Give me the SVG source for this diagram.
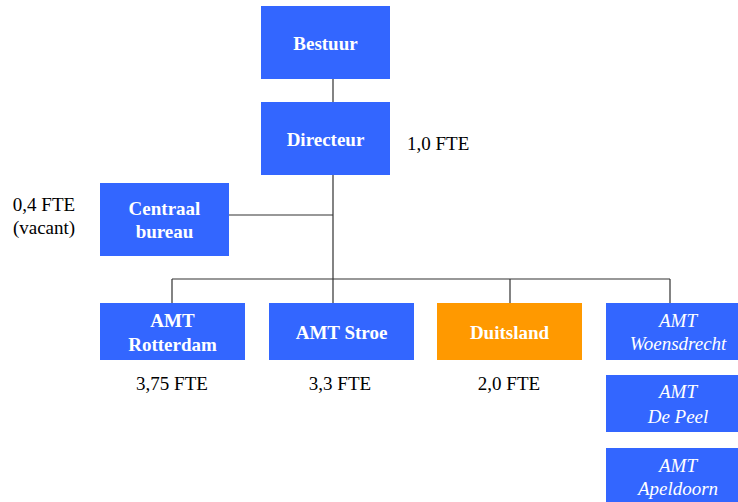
<svg xmlns="http://www.w3.org/2000/svg" width="738" height="502" viewBox="0 0 738 502">
<style>
.b{fill:#3366FF}
.o{fill:#FF9900}
.t{font-family:"Liberation Serif","Times New Roman",serif;font-size:19px;font-weight:bold;fill:#FFFFFF;text-anchor:middle}
.i{font-family:"Liberation Serif","Times New Roman",serif;font-size:19px;font-style:italic;fill:#FFFFFF;text-anchor:middle}
.l{font-family:"Liberation Serif","Times New Roman",serif;font-size:19px;fill:#000000}
.c{fill:none;stroke:#333333;stroke-width:1.2}
</style>
<rect width="738" height="502" fill="#FFFFFF"/>
<g id="connectors">
<path class="c" d="M333,79V102M333,175V279M229,215H333M172,279H670M172,279V303M333,279V303M510,279V303M670,279V303"/>
</g>
<g id="bestuur"><rect class="b" x="261" y="6" width="129" height="73"/><text class="t" x="325.5" y="50">Bestuur</text></g>
<g id="directeur"><rect class="b" x="261" y="102" width="129" height="73"/><text class="t" x="325.5" y="146">Directeur</text></g>
<g id="centraal"><rect class="b" x="100" y="183" width="129" height="73"/><text class="t" x="164.5" y="215">Centraal</text><text class="t" x="164.5" y="238">bureau</text></g>
<g id="rotterdam"><rect class="b" x="100" y="303" width="145" height="57"/><text class="t" x="172.5" y="327">AMT</text><text class="t" x="172.5" y="351">Rotterdam</text></g>
<g id="stroe"><rect class="b" x="269" y="303" width="145" height="57"/><text class="t" x="341.5" y="339">AMT Stroe</text></g>
<g id="duitsland"><rect class="o" x="437" y="303" width="145" height="57"/><text class="t" x="509.5" y="339">Duitsland</text></g>
<g id="woensdrecht"><rect class="b" x="606" y="303" width="145" height="57"/><text class="i" x="678" y="327">AMT</text><text class="i" x="678" y="350">Woensdrecht</text></g>
<g id="depeel"><rect class="b" x="606" y="375" width="145" height="57"/><text class="i" x="678" y="398">AMT</text><text class="i" x="678" y="423">De Peel</text></g>
<g id="apeldoorn"><rect class="b" x="606" y="448" width="145" height="57"/><text class="i" x="678" y="472">AMT</text><text class="i" x="678" y="495">Apeldoorn</text></g>
<g id="labels">
<text class="l" x="407" y="150">1,0 FTE</text>
<text class="l" x="44" y="211" text-anchor="middle">0,4 FTE</text>
<text class="l" x="44" y="234" text-anchor="middle">(vacant)</text>
<text class="l" x="172" y="390" text-anchor="middle">3,75 FTE</text>
<text class="l" x="340" y="390" text-anchor="middle">3,3 FTE</text>
<text class="l" x="509" y="390" text-anchor="middle">2,0 FTE</text>
</g>
</svg>
